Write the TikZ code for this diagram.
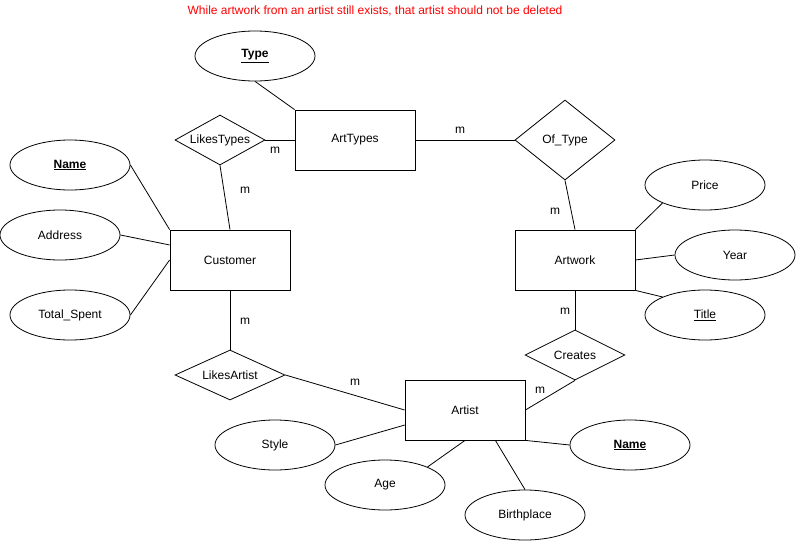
\documentclass[tikz,border=0pt]{standalone}
\usepackage{fontspec}
\setmainfont{Liberation Sans}
\usetikzlibrary{shapes.geometric}

\begin{document}
\begin{tikzpicture}[x=1pt,y=-1pt,line width=0.8pt,font=\fontsize{12}{14}\selectfont,
  entity/.style={draw,rectangle,minimum width=120pt,minimum height=60pt,inner sep=0pt},
  attr/.style={draw,ellipse,minimum width=120pt,minimum height=50pt,inner sep=0pt},
  rel/.style={draw,diamond,aspect=2,inner sep=0pt},
  card/.style={inner sep=0pt}]
  \useasboundingbox (0,0) rectangle (796,541);
  \node[text=red] (note) at (375,11) {While artwork from an artist still exists, that artist should not be deleted};

  % entities
  \node[entity] (arttypes) at (355,140) {ArtTypes};
  \node[entity] (customer) at (230,260) {Customer};
  \node[entity] (artwork) at (575,260) {Artwork};
  \node[entity] (artist) at (465,410) {Artist};

  % relationships
  \node[rel,minimum width=90pt,minimum height=50pt] (likestypes) at (220,140) {LikesTypes};
  \node[rel,minimum width=100pt,minimum height=80pt] (oftype) at (565,140) {Of\_Type};
  \node[rel,minimum width=110pt,minimum height=50pt] (likesartist) at (230,375) {LikesArtist};
  \node[rel,minimum width=100pt,minimum height=50pt] (creates) at (575,355) {Creates};

  % attributes
  \foreach \n/\x/\y/\t in {type/255/56/\underline{\textbf{Type}}, cname/70/165/\underline{\textbf{Name}},
    address/60/235/Address, total/70/315/Total\_Spent, price/705/185/Price, year/735/255/Year,
    title/705/315/\underline{Title}, style/275/445/Style, age/385/485/Age,
    birthplace/525/515/Birthplace, aname/630/445/\underline{\textbf{Name}}}
    \node[attr] (\n) at (\x,\y) {\t};

  % connectors
  \foreach \a/\b in {type.south/arttypes.north west, likestypes.east/arttypes.west,
    likestypes.south/customer.north, arttypes.east/oftype.west, oftype.south/artwork.north,
    artwork.south/creates.north, creates.south/artist.east, customer.south/likesartist.north,
    likesartist.east/artist.west, cname.east/customer.north west, address.east/customer.166,
    total.east/customer.west, price.203/artwork.north east, year.west/artwork.east,
    title.157/artwork.south east, style.east/artist.194, age.23/artist.south,
    birthplace.north/artist.-45, aname.west/artist.south east}
    \draw (\a) -- (\b);

  % cardinalities
  \foreach \n/\x/\y in {m1/275/150, m2/245/190, m3/460/130, m4/555/211,
    m5/565/311, m6/540/390, m7/245/321, m8/355/382}
    \node[card] (\n) at (\x,\y) {m};
\end{tikzpicture}
\end{document}
